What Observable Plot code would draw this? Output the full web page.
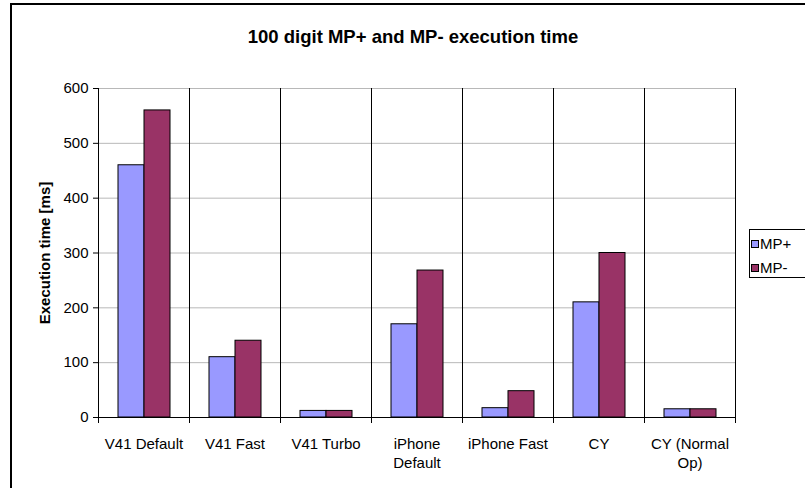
<!DOCTYPE html>
<html>
<head>
<meta charset="utf-8">
<script src="https://cdn.jsdelivr.net/npm/d3@7"></script>
<script src="https://cdn.jsdelivr.net/npm/@observablehq/plot@0.6"></script>
<style>
  html, body { margin: 0; padding: 0; background: #fff; overflow: hidden; }
  #wrap { position: relative; width: 805px; height: 488px; font-family: "Liberation Sans", Arial, sans-serif; color: #000; }
  #chart { position: absolute; left: 0; top: 0; }
  #border { position: absolute; left: 10px; top: 3px; width: 900px; height: 600px; border-left: 2px solid #000; border-top: 2px solid #000; box-sizing: border-box; }
  #title { position: absolute; left: 0; top: 26px; width: 826px; text-align: center; font-size: 18.5px; font-weight: bold; line-height: 22px; white-space: nowrap; }
  #ylabel { position: absolute; left: 44px; top: 253px; transform: translate(-50%, -50%) rotate(-90deg); font-size: 15px; font-weight: bold; white-space: nowrap; }
  #legend { position: absolute; left: 749px; top: 229px; width: 80px; height: 49px; border: 1px solid #000; background: #fff; box-sizing: border-box; }
  .item { position: absolute; left: 1px; height: 20px; line-height: 20px; font-size: 15px; white-space: nowrap; }
  .sw { display: inline-block; width: 6px; height: 6px; border: 1px solid #000; margin-right: 1px; vertical-align: 1px; }
</style>
</head>
<body>
<div id="wrap">
  <div id="chart"></div>
  <div id="border"></div>
  <div id="title">100 digit MP+ and MP- execution time</div>
  <div id="ylabel">Execution time [ms]</div>
  <div id="legend"></div>
</div>
<script>
const categories = ["V41 Default", "V41 Fast", "V41 Turbo", "iPhone Default", "iPhone Fast", "CY", "CY (Normal Op)"];
const tickLabels = ["V41 Default", "V41 Fast", "V41 Turbo", "iPhone\nDefault", "iPhone Fast", "CY", "CY (Normal\nOp)"];
const series = ["MP+", "MP-"];
const mpPlus = [460, 110, 12, 170, 17, 210, 15];
const mpMinus = [560, 140, 12, 268, 48, 300, 15];
const colors = ["#9999FF", "#993366"];
const yTicks = [0, 100, 200, 300, 400, 500, 600];

const data = categories.flatMap((c, i) => [
  {category: c, series: series[0], value: mpPlus[i]},
  {category: c, series: series[1], value: mpMinus[i]}
]);

const chart = Plot.plot({
  width: 805,
  height: 488,
  marginLeft: 96,
  marginRight: 69,
  marginTop: 88,
  marginBottom: 71,
  style: {fontFamily: "'Liberation Sans', Arial, sans-serif", fontSize: "15px", background: "#fff", color: "#000"},
  fx: {domain: categories, padding: 0},
  x: {domain: series, paddingInner: 0, paddingOuter: 0.72, axis: null},
  y: {domain: [0, 600]},
  color: {domain: series, range: colors},
  marks: [
    Plot.ruleY(yTicks.slice(1), {stroke: "#b8b8b8"}),
    Plot.barY(data, {fx: "category", x: "series", y: "value", fill: "series", stroke: "#000", strokeWidth: 1}),
    Plot.ruleY([0], {stroke: "#000"}),
    Plot.frame({anchor: "left", insetBottom: -5, stroke: "#000"}),
    Plot.frame({anchor: "right", insetBottom: -5, stroke: "#000"}),
    Plot.axisY({ticks: yTicks, tickSize: 5, tickPadding: 5, label: null, fontSize: 15}),
    Plot.axisFx({anchor: "bottom", tickSize: 0, tickPadding: 18, label: null, fontSize: 15, lineHeight: 1.25,
      tickFormat: (d) => tickLabels[categories.indexOf(d)]})
  ]
});
document.getElementById("chart").appendChild(chart);

const legend = document.getElementById("legend");
const legendTops = [4, 28];
series.forEach((s, i) => {
  const it = document.createElement("div");
  it.className = "item";
  it.style.top = legendTops[i] + "px";
  it.innerHTML = `<span class="sw" style="background:${colors[i]}"></span>${s}`;
  legend.appendChild(it);
});
</script>
</body>
</html>
